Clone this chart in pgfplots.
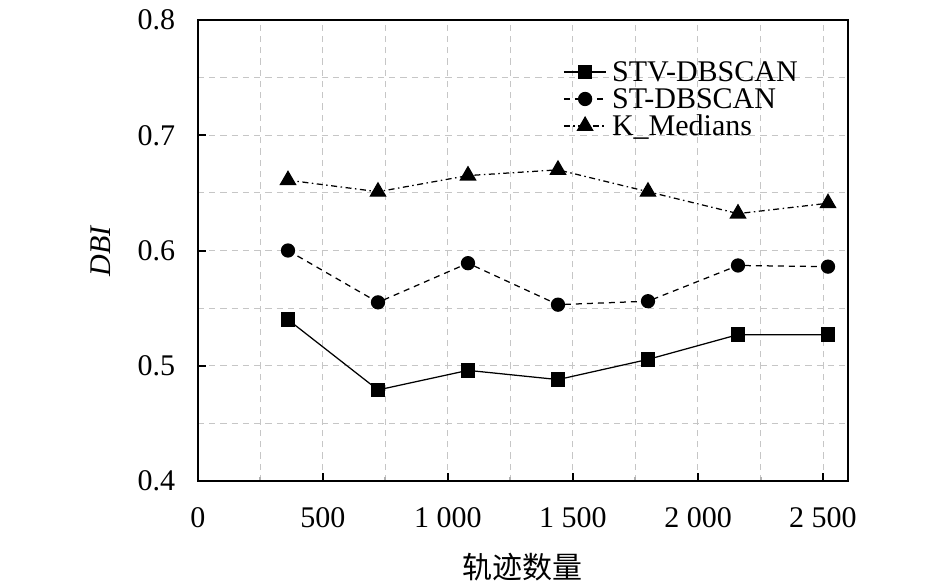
\documentclass[border=0pt]{standalone}
\usepackage{pgfplots}
\pgfplotsset{compat=1.18}
\usepackage{fontspec}
\setmainfont{Liberation Serif}
\newfontfamily\cjk{Noto Sans CJK SC}
\begin{document}
\begin{tikzpicture}
\path[use as bounding box] (-79.2pt,-40.8pt) rectangle (298.8pt,192.4pt);
\begin{axis}[
  width=260pt, height=184.4pt, scale only axis,
  xmin=0, xmax=2600, ymin=0.4, ymax=0.8,
  xtick={0,500,1000,1500,2000,2500},
  xticklabels={0,500,1~000,1~500,2~000,2~500},
  ytick={0.4,0.5,0.6,0.7,0.8},
  yticklabels={0.4,0.5,0.6,0.7,0.8},
  minor x tick num=1, minor y tick num=1,
  tick pos=left, tick align=inside,
  major tick length=3.2pt, minor tick length=1.6pt,
  minor y tick style={draw=none},
  minor x tick style={gray!60},
  every tick/.style={black, line width=0.8pt},
  grid=both,
  major grid style={gray!45, line width=0.4pt, dash pattern=on 2.5pt off 2pt},
  minor grid style={gray!45, line width=0.4pt, dash pattern=on 2.5pt off 2pt},
  axis line style={line width=0.9pt},
  tick label style={font=\fontsize{12}{14}\selectfont},
  xticklabel style={anchor=base, yshift=-18.4pt},
  yticklabel style={xshift=-5.6pt},
  every axis x label/.style={at={(axis description cs:0.5,0)}, yshift=-34.4pt, anchor=center, font=\fontsize{12}{14}\selectfont\cjk},
  every axis y label/.style={at={(axis description cs:0,0.5)}, xshift=-38.8pt, rotate=90, anchor=center, font=\fontsize{12}{14}\selectfont},
  xlabel={轨迹数量},
  ylabel={\textit{DBI}},
  legend style={at={(0.561,0.91)}, anchor=north west, draw=none, fill=none,
    inner sep=0pt, row sep=2.8pt, column sep=2pt,
    font=\fontsize{12}{12}\selectfont,
    nodes={inner sep=0pt, text height=8pt, text depth=0pt}},
  legend cell align=left,
]
\addplot[black, line width=0.5pt, mark=square*, mark size=2.7pt, mark options={solid}]
  coordinates {(360,0.540) (720,0.479) (1080,0.496) (1440,0.488) (1800,0.5055) (2160,0.527) (2520,0.527)};
\addlegendentry{STV-DBSCAN}
\addplot[black, line width=0.5pt, dash pattern=on 2.4pt off 2pt, mark=*, mark size=2.6pt, mark options={solid}]
  coordinates {(360,0.600) (720,0.555) (1080,0.589) (1440,0.553) (1800,0.556) (2160,0.587) (2520,0.586)};
\addlegendentry{ST-DBSCAN}
\addplot[black, line width=0.5pt, dash pattern=on 2.4pt off 1.4pt on 0.6pt off 1.4pt, mark=triangle*, mark size=3.5pt, mark options={solid}]
  coordinates {(360,0.661) (720,0.651) (1080,0.665) (1440,0.670) (1800,0.651) (2160,0.632) (2520,0.641)};
\addlegendentry{K\_Medians}
\end{axis}
\end{tikzpicture}
\end{document}
